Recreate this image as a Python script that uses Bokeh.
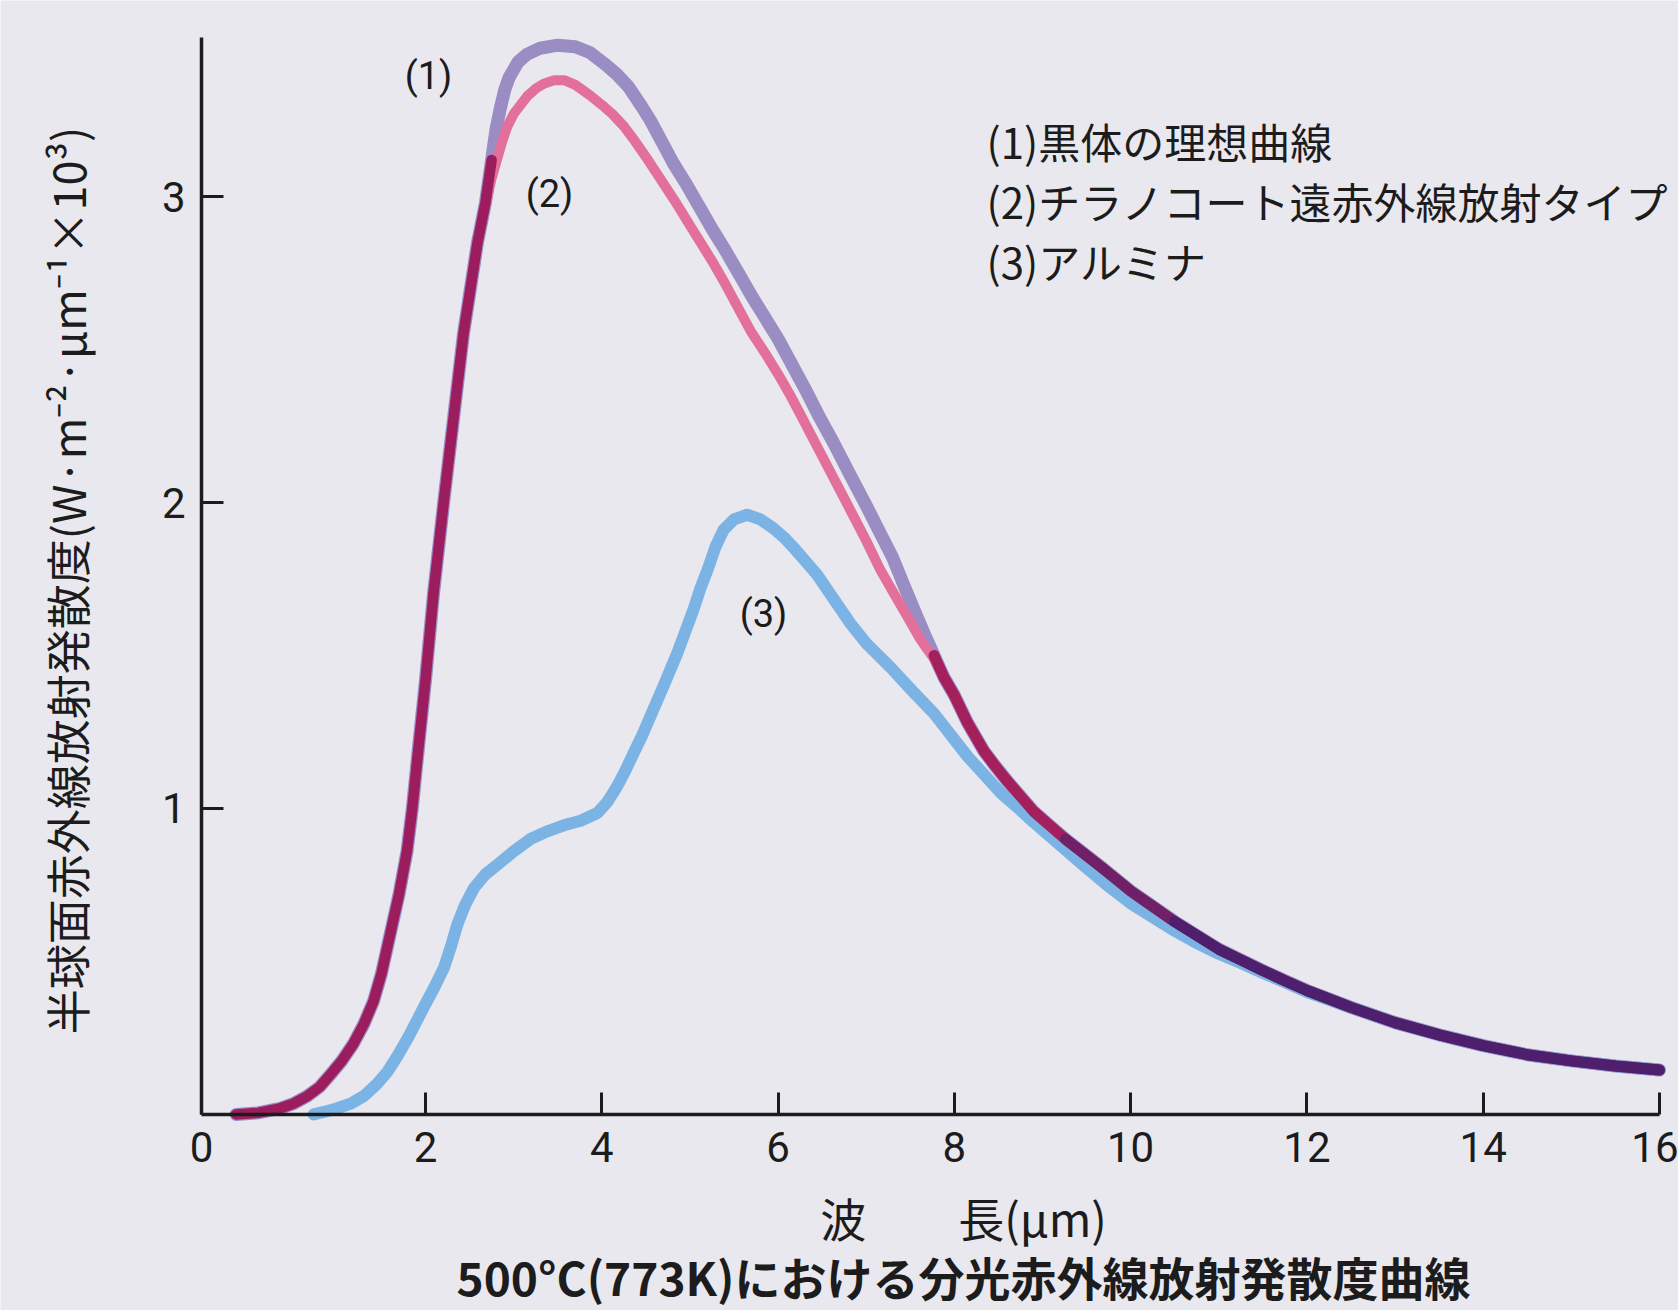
import numpy as np
from bokeh.plotting import figure
from bokeh.models import Range1d, FixedTicker, Label
from bokeh.embed import file_html
from bokeh.resources import INLINE

# ---------------- data ----------------
# (1) black body ideal curve
bb_x = [-0.15, 0.10, 0.35, 0.50, 0.66, 0.80, 0.92, 1.05, 1.18, 1.30, 1.41, 1.50, 1.60, 1.70,
        1.79, 1.85, 1.91, 2.00, 2.09, 2.21, 2.32, 2.43, 2.59, 2.68, 2.75, 2.80, 2.85, 2.90,
        2.95, 3.05, 3.15, 3.30, 3.50, 3.70, 3.87, 4.05, 4.17, 4.30, 4.44, 4.55, 4.68, 4.81,
        4.95, 5.10, 5.25, 5.40, 5.55, 5.70, 5.85, 6.00, 6.15, 6.30, 6.45, 6.63, 6.80, 7.00,
        7.15, 7.30, 7.42, 7.55, 7.66, 7.77, 7.88, 8.00, 8.15, 8.33, 8.46, 8.60, 8.75, 8.90,
        9.08, 9.26, 9.46, 9.66, 9.83, 10.0, 10.25, 10.5, 10.75, 11.0, 11.25, 11.5, 11.75,
        12.0, 12.5, 13.0, 13.5, 14.0, 14.5, 15.0, 15.5, 16.0]
bb_y = [0.00, 0.005, 0.02, 0.035, 0.06, 0.09, 0.13, 0.175, 0.23, 0.295, 0.37, 0.46, 0.59, 0.72,
        0.86, 1.00, 1.17, 1.42, 1.70, 2.01, 2.28, 2.55, 2.85, 2.98, 3.12, 3.22, 3.29, 3.35,
        3.39, 3.44, 3.465, 3.485, 3.495, 3.49, 3.47, 3.43, 3.40, 3.36, 3.30, 3.25, 3.18, 3.11,
        3.045, 2.97, 2.895, 2.825, 2.75, 2.675, 2.605, 2.535, 2.455, 2.375, 2.29, 2.195, 2.10, 1.99,
        1.905, 1.82, 1.735, 1.645, 1.57, 1.50, 1.43, 1.37, 1.28, 1.19, 1.14, 1.09, 1.04, 0.99,
        0.945, 0.90, 0.855, 0.81, 0.77, 0.73, 0.68, 0.63, 0.585, 0.54, 0.505, 0.47, 0.437,
        0.405, 0.35, 0.30, 0.26, 0.225, 0.195, 0.175, 0.158, 0.145]

# (2) Tyranno coat far-infrared type
tc_x = [-0.15, 0.10, 0.35, 0.50, 0.66, 0.80, 0.92, 1.05, 1.18, 1.30, 1.41, 1.50, 1.60, 1.70,
        1.79, 1.85, 1.91, 2.00, 2.09, 2.21, 2.32, 2.43, 2.59, 2.68, 2.75, 2.81, 2.87, 2.93,
        3.00, 3.08, 3.16, 3.26, 3.35, 3.46, 3.58, 3.70, 3.87, 4.00, 4.12, 4.25, 4.38, 4.50,
        4.66, 4.82, 4.97, 5.12, 5.25, 5.38, 5.53, 5.69, 5.85, 6.00, 6.13, 6.25, 6.44, 6.63,
        6.82, 7.00, 7.16, 7.28, 7.39, 7.50, 7.60, 7.68, 7.77, 7.88, 8.00, 8.15, 8.33, 8.46,
        8.60, 8.75, 8.90, 9.08, 9.26, 9.46, 9.66, 9.83, 10.0, 10.25, 10.5, 10.75, 11.0, 11.25,
        11.5, 11.75, 12.0, 12.5, 13.0, 13.5, 14.0, 14.5, 15.0, 15.5, 16.0]
tc_y = [0.00, 0.005, 0.02, 0.035, 0.06, 0.09, 0.13, 0.175, 0.23, 0.295, 0.37, 0.46, 0.59, 0.72,
        0.86, 1.00, 1.17, 1.42, 1.70, 2.01, 2.28, 2.55, 2.85, 2.97, 3.06, 3.12, 3.18, 3.23,
        3.27, 3.30, 3.33, 3.355, 3.37, 3.38, 3.38, 3.365, 3.33, 3.30, 3.27, 3.23, 3.18, 3.13,
        3.06, 2.99, 2.92, 2.85, 2.79, 2.725, 2.645, 2.56, 2.49, 2.42, 2.355, 2.29, 2.185, 2.08,
        1.975, 1.875, 1.78, 1.72, 1.665, 1.61, 1.56, 1.525, 1.49, 1.43, 1.37, 1.28, 1.19, 1.14,
        1.09, 1.04, 0.99, 0.945, 0.90, 0.855, 0.81, 0.77, 0.73, 0.68, 0.63, 0.585, 0.54, 0.505,
        0.47, 0.437, 0.405, 0.35, 0.30, 0.26, 0.225, 0.195, 0.175, 0.158, 0.145]

# (3) alumina
al_x = [0.73, 0.85, 1.00, 1.15, 1.30, 1.45, 1.57, 1.68, 1.80, 1.90, 1.98, 2.10, 2.21, 2.29,
        2.36, 2.45, 2.55, 2.68, 2.81, 3.00, 3.19, 3.38, 3.57, 3.76, 3.95, 4.06, 4.17, 4.27,
        4.36, 4.46, 4.55, 4.70, 4.86, 4.95, 5.04, 5.12, 5.20, 5.29, 5.38, 5.50, 5.65, 5.80,
        5.95, 6.07, 6.20, 6.32, 6.44, 6.63, 6.82, 7.00, 7.14, 7.28, 7.52, 7.77, 7.96, 8.15,
        8.34, 8.53, 8.71, 8.90, 9.10, 9.28, 9.46, 9.73, 10.0, 10.25, 10.5, 10.75, 11.0, 11.25,
        11.5, 11.75, 12.0, 12.5, 13.0, 13.5, 14.0, 14.5, 15.0, 15.5, 16.0]
al_y = [0.00, 0.008, 0.02, 0.035, 0.06, 0.10, 0.14, 0.19, 0.25, 0.305, 0.35, 0.415, 0.48, 0.55,
        0.62, 0.685, 0.74, 0.785, 0.815, 0.86, 0.90, 0.925, 0.945, 0.96, 0.985, 1.02, 1.07, 1.125,
        1.18, 1.24, 1.30, 1.40, 1.51, 1.58, 1.65, 1.72, 1.78, 1.855, 1.91, 1.945, 1.96, 1.945,
        1.915, 1.885, 1.845, 1.805, 1.765, 1.685, 1.605, 1.54, 1.50, 1.46, 1.385, 1.31, 1.24, 1.17,
        1.11, 1.05, 1.005, 0.955, 0.905, 0.86, 0.815, 0.75, 0.69, 0.645, 0.60, 0.56, 0.525, 0.495,
        0.462, 0.432, 0.40, 0.35, 0.30, 0.26, 0.225, 0.195, 0.175, 0.158, 0.145]

x_ticks = [2, 4, 6, 8, 10, 12, 14, 16]
y_ticks = [1, 2, 3]
origin_label = "0"

legend_lines = ["(1)黒体の理想曲線", "(2)チラノコート遠赤外線放射タイプ", "(3)アルミナ"]
curve_tags = ["(1)", "(2)", "(3)"]
y_title = "半球面赤外線放射発散度(W·m⁻²·μm⁻¹×10³)"
x_title = "波　　長(μm)"
caption = "500°C(773K)における分光赤外線放射発散度曲線"

# ---------------- styling / layout ----------------
BG = "#e9e8ee"
INK = "#1c1c1c"
C_BB = "#9a8dc4"
C_TC = "#e3709a"
C_AL = "#7bb3e4"
C_RISE = "#9c1d5d"
C_TAIL_A = "#a3205c"
C_TAIL_B = "#3e2070"

X0 = -0.541          # where the vertical axis stands (labelled "0")
XR = (-2.822, 16.216)
YR = (-0.641, 3.641)
YT = 3.52
NUM = "Roboto"
JP = "Noto Sans CJK JP"

p = figure(width=1678, height=1310, output_backend="svg", toolbar_location=None,
           x_range=Range1d(*XR), y_range=Range1d(*YR), min_border=0,
           min_border_left=0, min_border_right=0, min_border_top=0, min_border_bottom=0)
p.background_fill_color = BG
p.border_fill_color = BG
p.outline_line_color = None
p.grid.visible = False

xa = p.xaxis[0]
xa.fixed_location = 0
xa.ticker = FixedTicker(ticks=[X0] + x_ticks)
xa.major_label_overrides = {X0: origin_label}
xa.bounds = (X0, x_ticks[-1])
ya = p.yaxis[0]
ya.fixed_location = X0
ya.ticker = FixedTicker(ticks=y_ticks)
ya.bounds = (0, YT)
for ax in (xa, ya):
    ax.axis_line_color = INK
    ax.axis_line_width = 3.5
    ax.major_tick_line_color = INK
    ax.major_tick_line_width = 3
    ax.major_tick_in = 22
    ax.major_tick_out = 0
    ax.minor_tick_line_color = None
    ax.major_label_text_font = NUM
    ax.major_label_text_font_size = "42px"
    ax.major_label_text_color = INK
xa.major_label_standoff = 18
ya.major_label_standoff = 16

LINE = dict(line_cap="round", line_join="round")

# curves
p.line(bb_x, bb_y, line_color=C_BB, line_width=13, **LINE)
p.line(tc_x, tc_y, line_color=C_TC, line_width=10, **LINE)
p.line(al_x, al_y, line_color=C_AL, line_width=12, **LINE)

# where (1) and (2) coincide, the printed inks overlap into darker tones
bx = np.array(bb_x)
by = np.array(bb_y)
rise = bx <= 2.75
p.line(bx[rise], by[rise], line_color=C_RISE, line_width=10.5, **LINE)
t1 = bx >= 7.77
p.line(bx[t1], by[t1], line_color=C_TAIL_A, line_width=11, **LINE)
t2 = bx >= 9.26
p.line(bx[t2], by[t2], line_color=C_TAIL_B, line_alpha=0.5, line_width=11, **LINE)
t3 = bx >= 10.5
p.line(bx[t3], by[t3], line_color=C_TAIL_B, line_alpha=0.7, line_width=11, **LINE)

# curve tags
for tag, (tx, ty) in zip(curve_tags, [(2.034, 3.395), (3.407, 3.007), (5.835, 1.637)]):
    p.add_layout(Label(x=tx, y=ty, text=tag, text_font=NUM, text_font_size="38px",
                       text_color=INK, text_align="center", text_baseline="middle"))

# legend text
for line, ly in zip(legend_lines, [3.183, 2.987, 2.791]):
    p.add_layout(Label(x=8.366, y=ly, text=line, text_font=JP, text_font_size="42px",
                       text_color=INK, text_align="left", text_baseline="middle"))

# axis titles and caption
p.add_layout(Label(x=-2.073, y=1.745, text=y_title, angle=np.pi / 2, text_font=JP,
                   text_font_size="45px", text_color=INK, text_align="center",
                   text_baseline="middle"))
p.add_layout(Label(x=8.104, y=-0.337, text=x_title, text_font=JP, text_font_size="46px",
                   text_color=INK, text_align="center", text_baseline="middle"))
p.add_layout(Label(x=8.104, y=-0.529, text=caption, text_font=JP, text_font_size="46px",
                   text_font_style="bold", text_color=INK, text_align="center",
                   text_baseline="middle"))

open("out.html", "w").write(file_html(p, INLINE))
